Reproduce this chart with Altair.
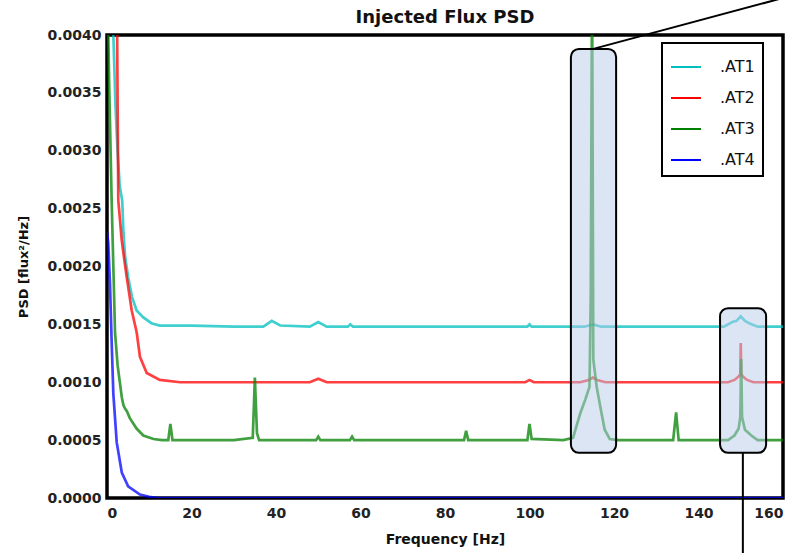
import altair as alt
import pandas as pd

# ---- data (curves start/leave where they cross the top edge) ----
series_names = [".AT1", ".AT2", ".AT3", ".AT4"]
series_colors = ["#00BFBF", "#FF0000", "#008000", "#0000FF"]

at1_freq = [1.5, 2, 2.5, 3, 3.6, 3.9, 4.3, 5.0, 5.9, 7.0, 8.6, 10.5, 12.5, 20, 30, 37, 39, 41, 48, 50, 52, 57, 57.6, 58.2, 70, 85, 99.5, 100, 100.5, 113, 115, 117, 130, 146, 148, 149, 150, 151, 152, 154, 160]
at1_psd = [0.0040, 0.0034, 0.0030, 0.0027, 0.00257, 0.00229, 0.00208, 0.00191, 0.00174, 0.00162, 0.00156, 0.00151, 0.00149, 0.00149, 0.00148, 0.00148, 0.00153, 0.00149, 0.00148, 0.00152, 0.00148, 0.00148, 0.00150, 0.00148, 0.00148, 0.00148, 0.00148, 0.00150, 0.00148, 0.00148, 0.00150, 0.00148, 0.00148, 0.00148, 0.00152, 0.00153, 0.00157, 0.00153, 0.00151, 0.00148, 0.00148]

at2_freq = [2.4, 2.67, 3.08, 3.48, 4.02, 4.66, 5.85, 7.03, 7.8, 9.4, 12.5, 17.3, 30, 48, 50, 52, 99, 100, 101, 112, 114, 115, 116, 118, 147, 148.5, 149.5, 149.9, 150, 150.1, 150.5, 151.5, 153, 160]
at2_psd = [0.0040, 0.00257, 0.0024, 0.00223, 0.00208, 0.00191, 0.00162, 0.00143, 0.00122, 0.00108, 0.00102, 0.00100, 0.00100, 0.00100, 0.00103, 0.00100, 0.00100, 0.00102, 0.00100, 0.00100, 0.00102, 0.00104, 0.00102, 0.00100, 0.00100, 0.00102, 0.00105, 0.00107, 0.00134, 0.00107, 0.00105, 0.00102, 0.00100, 0.00100]

at3_freq = [0.3, 0.5, 1.1, 1.5, 1.9, 2.5, 3.5, 3.9, 4.3, 4.7, 5.4, 7.0, 8.6, 11, 13, 14.5, 15, 15.5, 20, 30, 34.5, 35, 35.5, 36, 45, 49.5, 50, 50.5, 57.5, 58, 58.5, 65, 70, 84.5, 85, 85.5, 99.5, 100, 100.5, 108, 110.3, 112, 113.2, 114.2, 114.5, 114.75, 114.85, 115.1, 115.9, 116.9, 117.8, 119, 121, 134, 134.7, 135.3, 140, 147, 148.5, 149.5, 149.9, 150.1, 150.3, 151, 152.5, 154, 160]
at3_psd = [0.0040, 0.0036, 0.00257, 0.0020, 0.00143, 0.00115, 0.00087, 0.00080, 0.00077, 0.00075, 0.00069, 0.00060, 0.00054, 0.00051, 0.00050, 0.00050, 0.00064, 0.00050, 0.00050, 0.00050, 0.00052, 0.00104, 0.00056, 0.00050, 0.00050, 0.00050, 0.00053, 0.00050, 0.00050, 0.00053, 0.00050, 0.00050, 0.00050, 0.00050, 0.00058, 0.00050, 0.00050, 0.00064, 0.00051, 0.00050, 0.00052, 0.00073, 0.00085, 0.00096, 0.00175, 0.0040, 0.0040, 0.0012, 0.00096, 0.00076, 0.00059, 0.00051, 0.00050, 0.00050, 0.00074, 0.00050, 0.00050, 0.00050, 0.00054, 0.00060, 0.00070, 0.00120, 0.00070, 0.00059, 0.00054, 0.00050, 0.00050]

at4_freq = [0, 0.3, 0.7, 1.1, 1.5, 2.3, 3.5, 5.0, 7.8, 10, 12, 160]
at4_psd = [0.0023, 0.0022, 0.00186, 0.00135, 0.0009, 0.00048, 0.00022, 0.00010, 0.00003, 0.00001, 0.0, 0.0]

# highlight boxes and connector lines (annotation)
box_f_start = [109.8, 145.1]
box_f_end = [120.5, 156.0]
box_psd_low = [0.00039, 0.00039]
box_psd_high = [0.00388, 0.00164]

conn_f_start = [115.1, 150.5]
conn_psd_start = [0.00388, 0.00039]
conn_f_end = [160.0, 150.5]
conn_psd_end = [0.00432, -0.00050]

x_ticks = [0, 20, 40, 60, 80, 100, 120, 140, 160]
y_ticks = [0.0, 0.0005, 0.0010, 0.0015, 0.0020, 0.0025, 0.0030, 0.0035, 0.0040]

# ---- build tables ----
rows = []
for name, fr, ps in zip(series_names,
                        [at1_freq, at2_freq, at3_freq, at4_freq],
                        [at1_psd, at2_psd, at3_psd, at4_psd]):
    for i, (f, p) in enumerate(zip(fr, ps)):
        rows.append({"series": name, "freq": f, "psd": p, "i": i})
lines_df = pd.DataFrame(rows)

boxes_df = pd.DataFrame({"f1": box_f_start, "f2": box_f_end,
                         "p1": box_psd_low, "p2": box_psd_high})
conn_df = pd.DataFrame({"f1": conn_f_start, "p1": conn_psd_start,
                        "f2": conn_f_end, "p2": conn_psd_end})

FONT = "DejaVu Sans"

x_scale = alt.Scale(domain=[0, 160], nice=False, zero=False)
y_scale = alt.Scale(domain=[0, 0.004], nice=False, zero=False)

x_axis = alt.Axis(values=x_ticks, format="d", title="Frequency [Hz]",
                  domain=False, ticks=False, grid=False,
                  labelFont=FONT, labelFontSize=14, labelFontWeight="bold",
                  labelColor="#222222", labelPadding=8,
                  titleFont=FONT, titleFontSize=14, titleFontWeight="bold",
                  titleColor="#111111", titlePadding=12)
y_axis = alt.Axis(values=y_ticks, format=".4f", title="PSD [flux²/Hz]",
                  domain=False, ticks=False, grid=False,
                  labelFont=FONT, labelFontSize=14, labelFontWeight="bold",
                  labelColor="#222222", labelPadding=6,
                  titleFont=FONT, titleFontSize=13, titleFontWeight="bold",
                  titleColor="#111111", titlePadding=16)

lines = alt.Chart(lines_df).mark_line(clip=True, strokeWidth=2.7, opacity=0.75).encode(
    x=alt.X("freq:Q", scale=x_scale, axis=x_axis),
    y=alt.Y("psd:Q", scale=y_scale, axis=y_axis),
    color=alt.Color("series:N", sort=series_names,
                    scale=alt.Scale(domain=series_names, range=series_colors),
                    legend=alt.Legend(title=None, orient="none",
                                      legendX=555, legendY=8,
                                      symbolType="stroke", symbolSize=900,
                                      symbolStrokeWidth=2, symbolOpacity=1,
                                      labelFont=FONT, labelFontSize=16,
                                      labelColor="#111111", labelOffset=18,
                                      rowPadding=7, padding=8,
                                      strokeColor="black", fillColor="white")),
    order=alt.Order("i:Q"),
)

boxes = alt.Chart(boxes_df).mark_rect(
    fill="#b8cce9", fillOpacity=0.5, stroke="black", strokeWidth=2,
    cornerRadius=8, clip=False
).encode(
    x=alt.X("f1:Q", scale=x_scale), x2="f2:Q",
    y=alt.Y("p1:Q", scale=y_scale), y2="p2:Q",
)

connectors = alt.Chart(conn_df).mark_rule(color="black", strokeWidth=2, clip=False).encode(
    x=alt.X("f1:Q", scale=x_scale), x2="f2:Q",
    y=alt.Y("p1:Q", scale=y_scale), y2="p2:Q",
)

chart = alt.layer(lines, boxes, connectors).properties(
    width=676, height=463,
    title=alt.TitleParams("Injected Flux PSD", font=FONT, fontSize=18,
                          fontWeight="bold", color="#111111",
                          anchor="middle", offset=0, dy=30, frame="group"),
    autosize=alt.AutoSizeParams(type="none"),
    padding={"left": 107, "top": 35, "right": 8, "bottom": 55},
).configure_view(
    stroke="black", strokeWidth=3.5
).configure_legend(
    strokeWidth=2
)

chart.save("out.html", embed_options={"renderer": "svg", "actions": False})
